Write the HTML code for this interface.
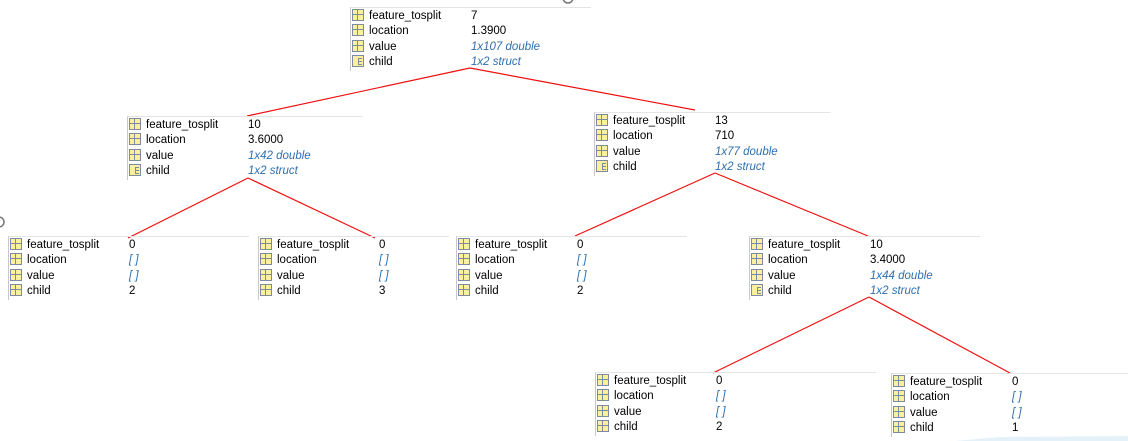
<!DOCTYPE html>
<html><head><meta charset="utf-8"><style>
body{margin:0;width:1128px;height:441px;background:#fff;position:relative;overflow:hidden;font-family:"Liberation Sans",sans-serif;font-size:11.5px;color:#000}
.t{position:absolute;border-left:1px solid #c8c8c8;border-top:1px solid #e4e4e4;height:63px}
.r{position:absolute;left:1px;height:15px;line-height:15px;white-space:nowrap}
.ic{display:inline-block;width:12px;height:12px;vertical-align:-2px;margin-right:5px;box-sizing:border-box;border:1px solid #7d8aa0;background:
linear-gradient(#7d8aa0,#7d8aa0) 4px 0/1px 100% no-repeat,linear-gradient(#7d8aa0,#7d8aa0) 0 4px/100% 1px no-repeat,#fcef9e}
.ic.s{background:linear-gradient(#7d8aa0,#7d8aa0) 5px 2px/1px 7px no-repeat,linear-gradient(#7d8aa0,#7d8aa0) 5px 2px/4px 1px no-repeat,linear-gradient(#7d8aa0,#7d8aa0) 5px 5px/4px 1px no-repeat,linear-gradient(#7d8aa0,#7d8aa0) 5px 8px/4px 1px no-repeat,#fcef9e}
.v{position:absolute;white-space:nowrap}
.i{font-style:italic;color:#2f6fb0}
svg{position:absolute;left:0;top:0}
</style></head><body>
<svg width="1128" height="441">
<g stroke="#f01010" stroke-width="1.2" fill="none">
<line x1="470" y1="68" x2="247" y2="116"/><line x1="470" y1="68" x2="695" y2="110"/>
<line x1="248" y1="178" x2="128" y2="238"/><line x1="248" y1="178" x2="375" y2="238"/>
<line x1="715" y1="173" x2="575" y2="236"/><line x1="715" y1="173" x2="868" y2="236"/>
<line x1="869" y1="297" x2="713" y2="373"/><line x1="869" y1="297" x2="1010" y2="373"/>
</g>
<circle cx="568" cy="-2" r="5" stroke="#777" stroke-width="1.5" fill="none"/>
<circle cx="-1" cy="222" r="5" stroke="#777" stroke-width="1.5" fill="none"/>
<polygon points="955,441 1128,441 1128,436 1000,437" fill="#e4f1f9"/>
</svg>
<div id="c"></div>
<script>
const T=[
[350,7,240,['7','1.3900','1x107 double','1x2 struct'],1],
[127,116,235,['10','3.6000','1x42 double','1x2 struct'],1],
[594,112,235,['13','710','1x77 double','1x2 struct'],1],
[8,236,240,['0','[ ]','[ ]','2'],0],
[258,236,190,['0','[ ]','[ ]','3'],0],
[456,236,230,['0','[ ]','[ ]','2'],0],
[749,236,230,['10','3.4000','1x44 double','1x2 struct'],1],
[595,372,280,['0','[ ]','[ ]','2'],0],
[891,373,237,['0','[ ]','[ ]','1'],0]];
const names=['feature_tosplit','location','value','child'];
let h='';
for(const [x,y,w,v,s] of T){
h+=`<div class="t" style="left:${x}px;top:${y}px;width:${w}px">`;
for(let k=0;k<4;k++){
const it=(k>=1&&v[k].match(/[\[x]/))?' i':'';
h+=`<div class="r" style="top:${1+k*15.3}px"><span class="ic${(k==3&&s)?' s':''}"></span>${names[k]}</div><div class="v${it}" style="left:120px;top:${1+k*15.3}px;line-height:15px">${v[k]}</div>`;}
h+='</div>';}
document.getElementById('c').innerHTML=h;
</script>
</body></html>
